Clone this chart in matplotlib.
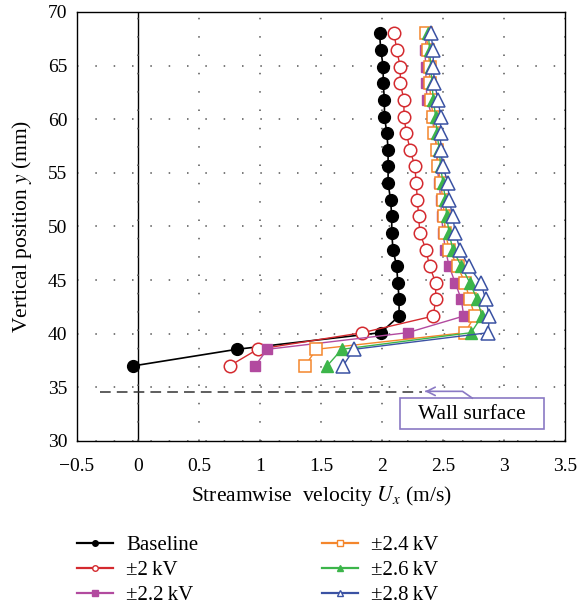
import matplotlib
matplotlib.use("Agg")
import matplotlib.pyplot as plt
from matplotlib.lines import Line2D
from matplotlib.patches import Rectangle

plt.rcParams['font.family'] = ['Liberation Serif', 'DejaVu Serif']
plt.rcParams['mathtext.fontset'] = 'stix'

# ---- data ----
y_pos = [37.0, 38.55, 40.1, 41.65, 43.2, 44.75, 46.3, 47.85, 49.4, 50.95, 52.5,
         54.05, 55.6, 57.15, 58.7, 60.25, 61.8, 63.35, 64.9, 66.45, 68.0]
baseline = [-0.04, 0.81, 1.99, 2.14, 2.14, 2.13, 2.12, 2.09, 2.08, 2.08, 2.07,
            2.05, 2.05, 2.05, 2.04, 2.02, 2.02, 2.01, 2.01, 1.99, 1.98]
kv20 = [0.75, 0.98, 1.84, 2.42, 2.44, 2.44, 2.39, 2.36, 2.31, 2.30, 2.29,
        2.28, 2.27, 2.23, 2.20, 2.18, 2.18, 2.15, 2.15, 2.12, 2.10]
kv22 = [0.96, 1.06, 2.21, 2.67, 2.65, 2.60, 2.55, 2.52, 2.50, 2.49, 2.48,
        2.47, 2.45, 2.45, 2.43, 2.41, 2.37, 2.36, 2.36, 2.35, 2.37]
kv24 = [1.37, 1.46, 2.68, 2.76, 2.72, 2.68, 2.62, 2.55, 2.52, 2.51, 2.50,
        2.48, 2.46, 2.45, 2.43, 2.42, 2.40, 2.39, 2.39, 2.38, 2.36]
kv26 = [1.55, 1.67, 2.73, 2.82, 2.78, 2.72, 2.65, 2.58, 2.55, 2.53, 2.52,
        2.50, 2.48, 2.47, 2.45, 2.44, 2.42, 2.41, 2.40, 2.39, 2.38]
kv28 = [1.68, 1.77, 2.87, 2.88, 2.85, 2.81, 2.71, 2.64, 2.60, 2.58, 2.55,
        2.54, 2.50, 2.48, 2.48, 2.48, 2.46, 2.43, 2.42, 2.42, 2.40]
labels = ['Baseline', '±2\u2009kV', '±2.2\u2009kV', '±2.4\u2009kV', '±2.6\u2009kV', '±2.8\u2009kV']
x_ticks = [-0.5, 0, 0.5, 1, 1.5, 2, 2.5, 3, 3.5]
x_tick_labels = ['\u22120.5', '0', '0.5', '1', '1.5', '2', '2.5', '3', '3.5']
y_ticks = [30, 35, 40, 45, 50, 55, 60, 65, 70]
wall_y = 34.6
wall_x = (-0.31, 2.33)

# ---- styles ----
styles = [
    dict(color='black', marker='o', mfc='black', ms=8.5, lw=1.2),
    dict(color='#d42a2f', marker='o', mfc='white', ms=9, lw=1.0, mew=1.1),
    dict(color='#b24a9f', marker='s', mfc='#b24a9f', ms=7.5, lw=1.0),
    dict(color='#f4862c', marker='s', mfc='white', ms=8, lw=1.0, mew=1.1),
    dict(color='#3cb54a', marker='^', mfc='#3cb54a', ms=8.5, lw=1.0),
    dict(color='#3b52a3', marker='^', mfc='white', ms=10, lw=1.0, mew=1.1),
]
series = [baseline, kv20, kv22, kv24, kv26, kv28]

fig = plt.figure(figsize=(5.77, 6.09), dpi=100)
ax = fig.add_axes([77/577, 1-441/609, (565-77)/577, (441-12)/609])

ax.set_xlim(-0.5, 3.5)
ax.set_ylim(30, 70)
ax.set_xticks(x_ticks)
ax.set_xticklabels(x_tick_labels)
ax.set_yticks(y_ticks)
ax.tick_params(axis='both', length=0, labelsize=14)
ax.tick_params(axis='x', pad=12)
ax.tick_params(axis='y', pad=7)
ax.grid(True, color='#555555', linestyle=(0, (1, 11)), linewidth=1.1)
for s in ax.spines.values():
    s.set_linewidth(1.0)

ax.axvline(0, color='black', lw=1.0, zorder=1.5)
ax.plot(list(wall_x), [wall_y, wall_y], color='#333333', lw=1.1,
        linestyle=(0, (7, 4)), zorder=1.6)

for data, st, lab in zip(series, styles, labels):
    ax.plot(data, y_pos, label=lab, zorder=3, **st)

# callout
purple = '#8a79c4'
ax.add_patch(Rectangle((2.15, 31.08), 1.18, 2.92, facecolor='white',
                       edgecolor=purple, lw=1.2, zorder=4))
ax.text(2.74, 32.5, 'Wall surface', ha='center', va='center', fontsize=15.5, zorder=5)
ax.plot([2.74, 2.66, 2.36], [34.0, 34.63, 34.63], color=purple, lw=1.2, zorder=4)
ax.annotate('', xy=(2.33, 34.63), xytext=(2.42, 34.63),
            arrowprops=dict(arrowstyle='->,head_length=0.6,head_width=0.3',
                            color=purple, lw=1.2), zorder=4)

ax.set_xlabel('Streamwise  velocity $U_x$ (m/s)', fontsize=15.5, labelpad=7)
ax.set_ylabel('Vertical position $y$ (mm)', fontsize=15.5, labelpad=10)

# legend
handles = []
for st in styles:
    h = Line2D([], [], color=st['color'], marker=st['marker'], mfc=st['mfc'],
               ms=4, lw=1.6, mew=1.0)
    handles.append(h)
fig.legend(handles, labels, ncol=2, frameon=False, fontsize=15,
           loc='upper left', bbox_to_anchor=(67/577, 1-525/609),
           borderpad=0, handlelength=1.7, handletextpad=0.65,
           labelspacing=0.26, columnspacing=5.95)

fig.savefig('out.png', dpi=100)
